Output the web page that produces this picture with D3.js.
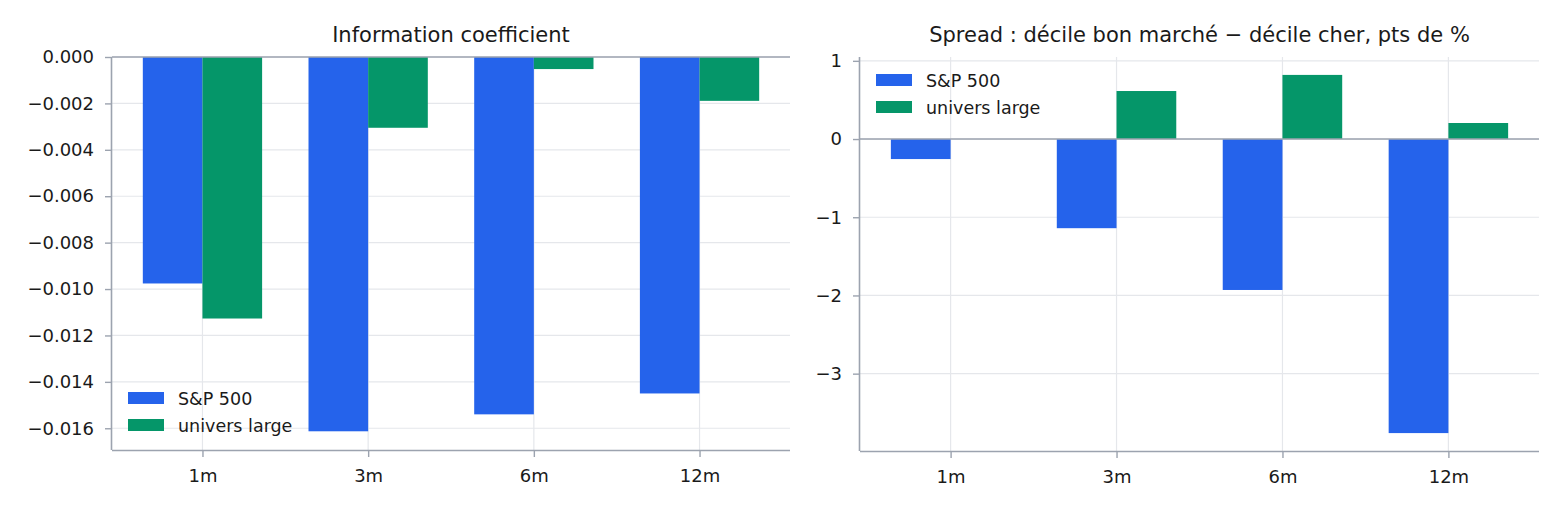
<!DOCTYPE html>
<html>
<head>
<meta charset="utf-8">
<script src="https://cdn.jsdelivr.net/npm/d3@7"></script>
<style>
  body { margin: 0; background: #fff; }
  svg text { font-family: "DejaVu Sans", sans-serif; fill: #1a1a1a; }
</style>
</head>
<body>
<div id="chart"></div>
<script>
const horizons = ["1m", "3m", "6m", "12m"];
const seriesNames = ["S&P 500", "univers large"];
const seriesColors = ["#2563eb", "#059669"];

// Information coefficient
const icSP500 = [-0.00976, -0.01613, -0.0154, -0.0145];
const icLarge = [-0.01127, -0.00305, -0.00052, -0.00189];
const icTicks = [0, -0.002, -0.004, -0.006, -0.008, -0.010, -0.012, -0.014, -0.016];

// spread cheap decile - expensive decile, pct points
const spreadSP500 = [-0.256, -1.14, -1.93, -3.76];
const spreadLarge = [0.0, 0.614, 0.82, 0.205];
const spreadTicks = [1, 0, -1, -2, -3];

const W = 1563, H = 510;
const svg = d3.select('#chart').append('svg')
    .attr('width', W)
    .attr('height', H);

const barW = 0.36;
const minus = s => s.replace('-', '\u2212');

function drawPanel(opts) {
    const {left, right, top, bottom, title, values, yDomain, ticks, fmt, legendPos} = opts;
    const w = right - left, h = bottom - top;
    const g = svg.append('g').attr('transform', `translate(${left},${top})`);

    // margins like matplotlib: 5% of the bar extent
    const lo = -barW, hi = horizons.length - 1 + barW;
    const pad = (hi - lo) * 0.05;
    const x = d3.scaleLinear().domain([lo - pad, hi + pad]).range([0, w]);
    const y = d3.scaleLinear().domain(yDomain).range([h, 0]);

    // grid
    g.append('g').selectAll('line.hg')
        .data(ticks)
        .enter().append('line')
        .attr('x1', 0).attr('x2', w)
        .attr('y1', d => y(d)).attr('y2', d => y(d))
        .style('stroke', '#e5e7eb').style('stroke-width', 1.2);
    g.append('g').selectAll('line.vg')
        .data(horizons)
        .enter().append('line')
        .attr('x1', (d, i) => x(i)).attr('x2', (d, i) => x(i))
        .attr('y1', 0).attr('y2', h)
        .style('stroke', '#e5e7eb').style('stroke-width', 1.2);

    // bars
    values.forEach((vals, s) => {
        const off = s === 0 ? -barW / 2 : barW / 2;
        g.append('g').selectAll('rect')
            .data(vals)
            .enter().append('rect')
            .attr('x', (d, i) => x(i + off - barW / 2))
            .attr('width', x(barW) - x(0))
            .attr('y', d => y(Math.max(0, d)))
            .attr('height', d => Math.abs(y(d) - y(0)))
            .style('fill', seriesColors[s]);
    });

    // zero line
    g.append('line')
        .attr('x1', 0).attr('x2', w)
        .attr('y1', y(0)).attr('y2', y(0))
        .style('stroke', '#9ca3af').style('stroke-width', 1.4);

    // axes
    const yAxis = g.append('g')
        .call(d3.axisLeft(y).tickValues(ticks).tickSize(7).tickPadding(11).tickFormat(fmt));
    const xAxis = g.append('g')
        .attr('transform', `translate(0,${h})`)
        .call(d3.axisBottom(x).tickValues(d3.range(horizons.length)).tickSize(7).tickPadding(12)
            .tickFormat(i => horizons[i]));
    [yAxis, xAxis].forEach(a => {
        a.attr('font-size', 18).attr('font-family', 'DejaVu Sans');
        a.select('.domain').style('stroke', '#9ca3af').style('stroke-width', 1.6);
        a.selectAll('.tick line').style('stroke', '#9ca3af').style('stroke-width', 1.4);
        a.selectAll('.tick text').style('font-size', '18px').style('fill', '#1a1a1a');
    });
    yAxis.select('.domain').attr('d', `M-0.5,${h}V0`);
    xAxis.select('.domain').attr('d', `M0,0.5H${w}`);

    // title
    svg.append('text')
        .attr('x', left + w / 2)
        .attr('y', 42)
        .attr('text-anchor', 'middle')
        .style('font-size', '21px')
        .text(title);

    // legend
    const lg = svg.append('g').attr('transform', `translate(${legendPos[0]},${legendPos[1]})`);
    seriesNames.forEach((name, s) => {
        lg.append('rect')
            .attr('x', 0).attr('y', s * 27)
            .attr('width', 36).attr('height', 12)
            .style('fill', seriesColors[s]);
        lg.append('text')
            .attr('x', 50).attr('y', s * 27 + 12.5)
            .style('font-size', '17.5px')
            .text(name);
    });
}

drawPanel({
    left: 112, right: 790, top: 57, bottom: 450,
    title: 'Information coefficient',
    values: [icSP500, icLarge],
    yDomain: [d3.min(icSP500.concat(icLarge)) * 1.05, 0],
    ticks: icTicks,
    fmt: d => minus(d3.format('.3f')(d)),
    legendPos: [128, 392]
});

const spreadAll = spreadSP500.concat(spreadLarge);
const sMin = d3.min(spreadAll), sMax = d3.max(spreadAll);
const sPad = (sMax - sMin) * 0.05;
drawPanel({
    left: 860, right: 1539, top: 57, bottom: 451,
    title: 'Spread : d\u00e9cile bon march\u00e9 \u2212 d\u00e9cile cher, pts de %',
    values: [spreadSP500, spreadLarge],
    yDomain: [sMin - sPad, sMax + sPad],
    ticks: spreadTicks,
    fmt: d => minus(d3.format('d')(d)),
    legendPos: [876, 74]
});
</script>
</body>
</html>
